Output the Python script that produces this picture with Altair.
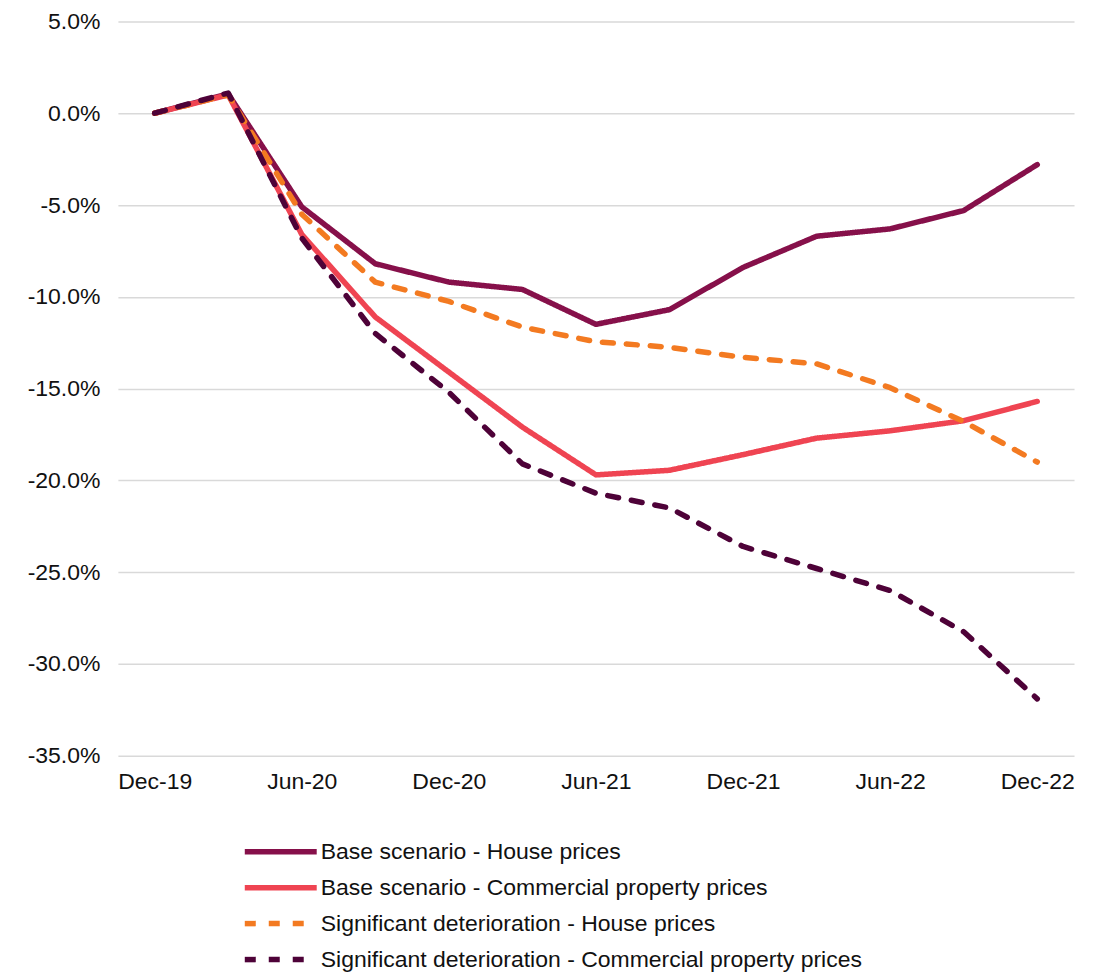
import altair as alt
import pandas as pd

quarters = ["Dec-19", "Mar-20", "Jun-20", "Sep-20", "Dec-20", "Mar-21", "Jun-21",
            "Sep-21", "Dec-21", "Mar-22", "Jun-22", "Sep-22", "Dec-22"]

series_names = [
    "Base scenario - House prices",
    "Base scenario - Commercial property prices",
    "Significant deterioration - House prices",
    "Significant deterioration - Commercial property prices",
]

base_house = [0.0, 1.05, -5.1, -8.2, -9.2, -9.6, -11.5, -10.7, -8.4, -6.7, -6.3, -5.3, -2.8]
base_commercial = [0.0, 1.0, -6.6, -11.1, -14.1, -17.1, -19.7, -19.45, -18.6, -17.7, -17.3, -16.75, -15.7]
sig_house = [0.0, 1.0, -5.5, -9.2, -10.25, -11.65, -12.45, -12.75, -13.3, -13.65, -14.95, -16.8, -19.0]
sig_commercial = [0.0, 1.1, -6.8, -12.0, -15.2, -19.1, -20.7, -21.5, -23.6, -24.8, -26.0, -28.25, -31.9]

colors = ["#86104A", "#EF4452", "#F37A21", "#4E0238"]
dashes = [[1, 0], [1, 0], [11, 13], [11, 13]]

rows = []
for name, vals in zip(series_names, [base_house, base_commercial, sig_house, sig_commercial]):
    for q, v in zip(quarters, vals):
        rows.append({"quarter": q, "value": v, "series": name})
df = pd.DataFrame(rows)

y_ticks = [5, 0, -5, -10, -15, -20, -25, -30, -35]

chart = alt.Chart(df).mark_line(strokeWidth=5.5, strokeCap="round", strokeJoin="round").encode(
    x=alt.X("quarter:O", sort=quarters,
            scale=alt.Scale(type="point", padding=0.5),
            axis=alt.Axis(title=None, values=quarters[::2], labelAngle=0, ticks=False,
                          domain=False, grid=False, labelPadding=15,
                          labelFont="Liberation Sans", labelFontSize=23,
                          labelColor="#111111")),
    y=alt.Y("value:Q",
            scale=alt.Scale(domain=[-35, 5], nice=False, zero=False),
            axis=alt.Axis(title=None, values=y_ticks, ticks=False, domain=False,
                          grid=True, gridColor="#d9d9d9", gridWidth=1.5,
                          labelPadding=18, labelFont="Liberation Sans", labelFontSize=23,
                          labelColor="#111111",
                          labelExpr="replace(format(datum.value, '.1f'), '\u2212', '-') + '%'")),
    color=alt.Color("series:N", sort=series_names,
                    scale=alt.Scale(domain=series_names, range=colors),
                    legend=alt.Legend(title=None, orient="none", legendX=148, legendY=816,
                                      direction="vertical", symbolType="M-3,0H3",
                                      symbolSize=576, symbolStrokeWidth=5.5,
                                      labelFont="Liberation Sans", labelFontSize=23,
                                      labelColor="#111111", labelOffset=25,
                                      rowPadding=9, labelLimit=800)),
    strokeDash=alt.StrokeDash("series:N", sort=series_names,
                              scale=alt.Scale(domain=series_names, range=dashes),
                              legend=None),
).properties(
    width=957, height=735,
    padding={"left": 110, "top": 13, "right": 20, "bottom": 216},
    autosize=alt.AutoSizeParams(type="none"),
    background="white",
).configure_view(stroke=None)

chart.save("out.html", embed_options={"renderer": "svg", "actions": False})
